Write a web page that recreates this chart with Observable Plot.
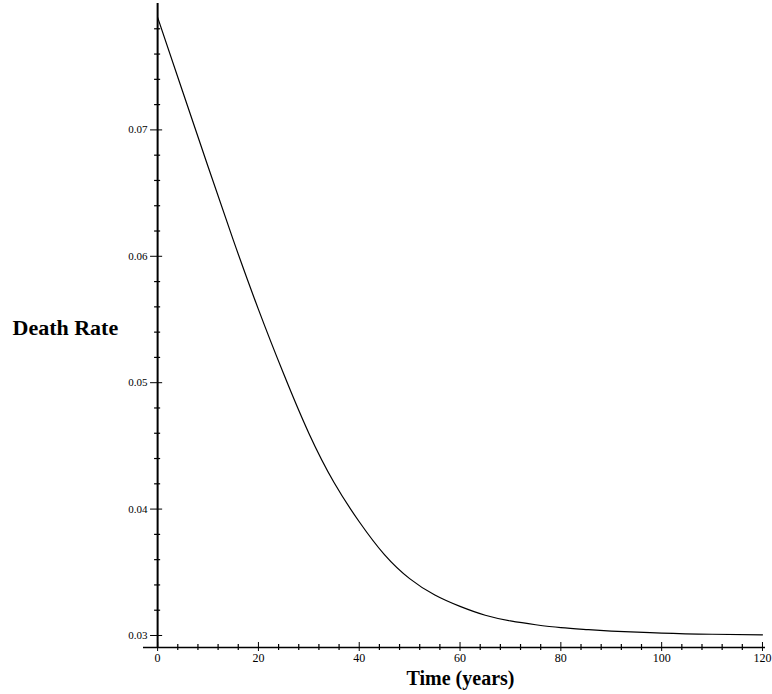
<!DOCTYPE html>
<html>
<head>
<meta charset="utf-8">
<script src="https://cdn.jsdelivr.net/npm/d3@7"></script>
<script src="https://cdn.jsdelivr.net/npm/@observablehq/plot@0.6"></script>
<style>
  html, body { margin: 0; padding: 0; background: #fff; }
  #chart svg { display: block; }
</style>
</head>
<body>
<div id="chart"></div>
<script>
// Data
const years = [0, 5, 10, 15, 20, 25, 30, 35, 40, 45, 50, 55, 60, 65, 70, 75, 80, 85, 90, 100, 110, 120];
const deathRate = [0.0789, 0.0730, 0.0671, 0.0613, 0.0558, 0.0507, 0.0460, 0.0421, 0.0390, 0.0364, 0.0345, 0.0332, 0.0323, 0.0316, 0.03115, 0.03085, 0.03062, 0.03047, 0.03035, 0.03019, 0.0301, 0.03005];

const xMajorTicks = [0, 20, 40, 60, 80, 100, 120];
const xMinorTicks = [4, 8, 12, 16, 24, 28, 32, 36, 44, 48, 52, 56, 64, 68, 72, 76, 84, 88, 92, 96, 104, 108, 112, 116];
const yMajorTicks = [0.03, 0.04, 0.05, 0.06, 0.07];
const yMinorTicks = [0.032, 0.034, 0.036, 0.038, 0.042, 0.044, 0.046, 0.048, 0.052, 0.054, 0.056, 0.058, 0.062, 0.064, 0.066, 0.068, 0.072, 0.074, 0.076, 0.078];
const yLabels = ["0.03", "0.04", "0.05", "0.06", "0.07"];
const xLabels = ["0", "20", "40", "60", "80", "100", "120"];

const xTitle = "Time (years)";
const yTitle = "Death Rate";

const data = years.map((t, i) => ({t, r: deathRate[i]}));
const yMin = 0.02905, yMax = 0.08;
const xMin = -2.8, xMax = 120.6;
const serif = "'Liberation Serif', 'DejaVu Serif', serif";

const chart = Plot.plot({
  width: 772,
  height: 694,
  marginLeft: 143,
  marginRight: 7,
  marginTop: 3,
  marginBottom: 47,
  style: {fontFamily: serif, background: "#fff", color: "#000"},
  x: {type: "linear", domain: [xMin, xMax], axis: null},
  y: {type: "linear", domain: [yMin, yMax], axis: null},
  marks: [
    // axes lines
    Plot.ruleY([yMin], {x1: xMin, x2: xMax, stroke: "#000", strokeWidth: 1.5}),
    Plot.ruleX([0], {y1: yMin, y2: yMax, stroke: "#000", strokeWidth: 2}),
    // y ticks
    Plot.ruleY(yMajorTicks, {x1: -1.4, x2: 1.0, stroke: "#000", strokeWidth: 1}),
    Plot.ruleY(yMinorTicks, {x1: -0.6, x2: 0.6, stroke: "#000", strokeWidth: 1.2}),
    // x ticks
    Plot.ruleX(xMajorTicks, {y1: yMin - 4 / 12650, y2: yMin + 5 / 12650, stroke: "#000", strokeWidth: 1}),
    Plot.ruleX(xMinorTicks, {y1: yMin - 3 / 12650, y2: yMin + 3 / 12650, stroke: "#000", strokeWidth: 1.2}),
    // tick labels
    Plot.text(yMajorTicks, {x: () => 0, y: d => d, text: (d, i) => yLabels[i], textAnchor: "end", dx: -10, fontSize: 11, fill: "#000"}),
    Plot.text(xMajorTicks, {x: d => d, y: () => yMin, text: (d, i) => xLabels[i], dy: 11, fontSize: 12, fill: "#000"}),
    // the curve
    Plot.line(data, {x: "t", y: "r", curve: "natural", stroke: "#000", strokeWidth: 1.2}),
    // axis titles
    Plot.text([yTitle], {frameAnchor: "left", text: d => d, textAnchor: "start", dx: -131, dy: 2, fontSize: 22, fontWeight: "bold", fill: "#000"}),
    Plot.text([xTitle], {frameAnchor: "bottom", text: d => d, dx: 6, dy: 37, fontSize: 20, fontWeight: "bold", fill: "#000"})
  ]
});
document.getElementById("chart").appendChild(chart);
</script>
</body>
</html>
